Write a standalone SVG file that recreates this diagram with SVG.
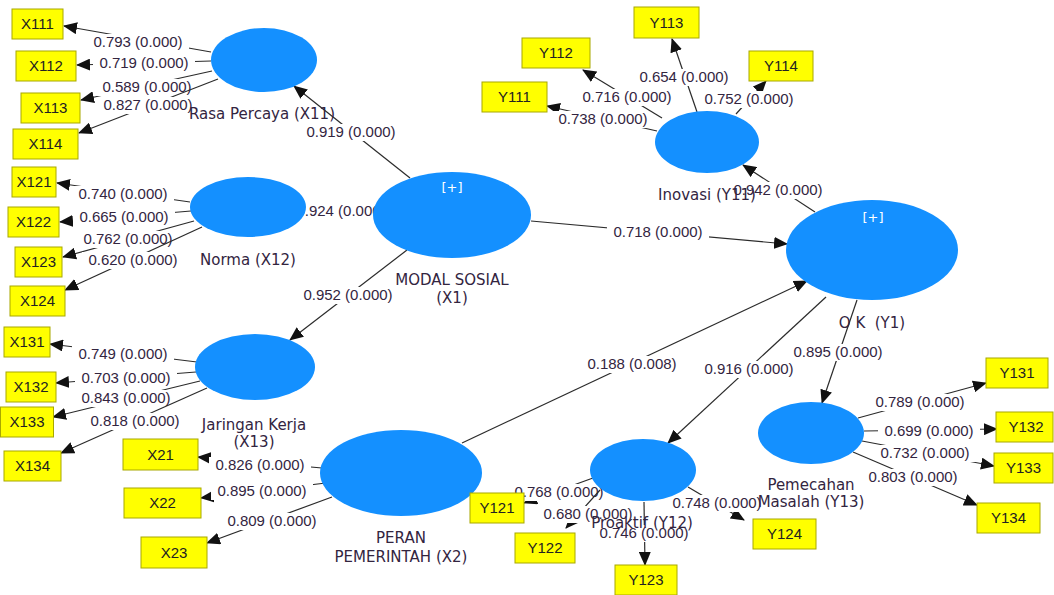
<svg xmlns="http://www.w3.org/2000/svg" width="1054" height="595" viewBox="0 0 1054 595">
<style>
.ln{stroke:#2b2b2b;stroke-width:1.2;fill:none;marker-end:url(#ah)}
.bg{fill:#fff}
.val{font-family:"Liberation Sans",Arial,sans-serif;font-size:15px;fill:#33253f;text-anchor:middle}
.lv{fill:#1490FF}
.lbl{font-family:"DejaVu Sans",Verdana,sans-serif;font-size:15px;fill:#33253f;text-anchor:middle;white-space:pre}
.plus{font-family:"DejaVu Sans",Verdana,sans-serif;font-size:13px;fill:#fff;text-anchor:middle}
.box{fill:#FFFF00;stroke:#A8A800;stroke-width:1}
.bt{font-family:"Liberation Sans",Arial,sans-serif;font-size:15px;fill:#222;text-anchor:middle}
</style>
<defs>
<marker id="ah" markerUnits="userSpaceOnUse" viewBox="0 0 14 12" markerWidth="14" markerHeight="12" refX="13" refY="6" orient="auto">
<path d="M0,0 L14,6 L0,12 z" fill="#111"/>
</marker>
</defs>
<rect width="1054" height="595" fill="#fff"/>

<g id="connectors">
<!-- Rasa Percaya indicators -->
<path class="ln" d="M211,52 L64,26"/><rect class="bg" x="87" y="34" width="102" height="17"/><text class="val" x="138" y="47">0.793 (0.000)</text>
<path class="ln" d="M211,61 L77,65"/><rect class="bg" x="93" y="55" width="102" height="17"/><text class="val" x="144" y="68">0.719 (0.000)</text>
<path class="ln" d="M212,71 L81,100"/><rect class="bg" x="96" y="79" width="102" height="17"/><text class="val" x="147" y="92">0.589 (0.000)</text>
<path class="ln" d="M218,79 L79,133"/><rect class="bg" x="97" y="97" width="102" height="17"/><text class="val" x="148" y="110">0.827 (0.000)</text>
<!-- Norma indicators -->
<path class="ln" d="M190,202 L57,183"/><rect class="bg" x="72" y="186" width="102" height="17"/><text class="val" x="123" y="199">0.740 (0.000)</text>
<path class="ln" d="M191,211 L60,222"/><rect class="bg" x="73" y="209" width="102" height="17"/><text class="val" x="124" y="222">0.665 (0.000)</text>
<path class="ln" d="M194,221 L63,257"/><rect class="bg" x="77" y="231" width="102" height="17"/><text class="val" x="128" y="244">0.762 (0.000)</text>
<path class="ln" d="M202,227 L65,290"/><rect class="bg" x="82" y="252" width="102" height="17"/><text class="val" x="133" y="265">0.620 (0.000)</text>
<!-- Jaringan Kerja indicators -->
<path class="ln" d="M197,362 L50,344"/><rect class="bg" x="72" y="346" width="102" height="17"/><text class="val" x="123" y="359">0.749 (0.000)</text>
<path class="ln" d="M196,372 L56,383"/><rect class="bg" x="75" y="370" width="102" height="17"/><text class="val" x="126" y="383">0.703 (0.000)</text>
<path class="ln" d="M200,381 L53,417"/><rect class="bg" x="75" y="390" width="102" height="17"/><text class="val" x="126" y="403">0.843 (0.000)</text>
<path class="ln" d="M207,388 L61,453"/><rect class="bg" x="84" y="413" width="102" height="17"/><text class="val" x="135" y="426">0.818 (0.000)</text>
<!-- Peran Pemerintah indicators -->
<path class="ln" d="M322,468 L198,457"/><rect class="bg" x="209" y="457" width="102" height="17"/><text class="val" x="260" y="470">0.826 (0.000)</text>
<path class="ln" d="M326,483 L201,498"/><rect class="bg" x="211" y="483" width="102" height="17"/><text class="val" x="262" y="496">0.895 (0.000)</text>
<path class="ln" d="M332,497 L207,543"/><rect class="bg" x="221" y="513" width="102" height="17"/><text class="val" x="272" y="526">0.809 (0.000)</text>
<!-- structural paths -->
<path class="ln" d="M410,178 L294,86"/><rect class="bg" x="300" y="124" width="102" height="17"/><text class="val" x="351" y="137">0.919 (0.000)</text>
<path class="ln" d="M373,214 L306,208"/><rect class="bg" x="290" y="203" width="102" height="17"/><text class="val" x="341" y="216">0.924 (0.000)</text>
<path class="ln" d="M407,250 L290,340"/><rect class="bg" x="297" y="287" width="102" height="17"/><text class="val" x="348" y="300">0.952 (0.000)</text>
<path class="ln" d="M531,221 L787,244"/><rect class="bg" x="607" y="224" width="102" height="17"/><text class="val" x="658" y="237">0.718 (0.000)</text>
<path class="ln" d="M462,443 L807,281"/><rect class="bg" x="581" y="356" width="102" height="17"/><text class="val" x="632" y="369">0.188 (0.008)</text>
<path class="ln" d="M815,212 L743,165"/><rect class="bg" x="727" y="182" width="102" height="17"/><text class="val" x="778" y="195">0.942 (0.000)</text>
<path class="ln" d="M826,297 L668,443"/><rect class="bg" x="698" y="361" width="102" height="17"/><text class="val" x="749" y="374">0.916 (0.000)</text>
<path class="ln" d="M857,300 L822,403"/><rect class="bg" x="787" y="344" width="102" height="17"/><text class="val" x="838" y="357">0.895 (0.000)</text>
<!-- Inovasi indicators -->
<path class="ln" d="M657,131 L547,106"/><rect class="bg" x="552" y="111" width="102" height="17"/><text class="val" x="603" y="124">0.738 (0.000)</text>
<path class="ln" d="M662,118 L583,70"/><rect class="bg" x="576" y="89" width="102" height="17"/><text class="val" x="627" y="102">0.716 (0.000)</text>
<path class="ln" d="M697,112 L672,39"/><rect class="bg" x="633" y="69" width="102" height="17"/><text class="val" x="684" y="82">0.654 (0.000)</text>
<path class="ln" d="M736,114 L766,81"/><rect class="bg" x="698" y="91" width="102" height="17"/><text class="val" x="749" y="104">0.752 (0.000)</text>
<!-- Proaktif indicators -->
<path class="ln" d="M593,478 L524,503"/><rect class="bg" x="508" y="484" width="102" height="17"/><text class="val" x="559" y="497">0.768 (0.000)</text>
<path class="ln" d="M600,490 L566,528"/><rect class="bg" x="537" y="506" width="102" height="17"/><text class="val" x="588" y="519">0.680 (0.000)</text>
<path class="ln" d="M644,502 L645,565"/><rect class="bg" x="593" y="525" width="102" height="17"/><text class="val" x="644" y="538">0.746 (0.000)</text>
<path class="ln" d="M688,487 L744,520"/><rect class="bg" x="666" y="495" width="102" height="17"/><text class="val" x="717" y="508">0.748 (0.000)</text>
<!-- Pemecahan Masalah indicators -->
<path class="ln" d="M858,418 L986,383"/><rect class="bg" x="869" y="394" width="102" height="17"/><text class="val" x="920" y="407">0.789 (0.000)</text>
<path class="ln" d="M864,431 L997,429"/><rect class="bg" x="878" y="423" width="102" height="17"/><text class="val" x="929" y="436">0.699 (0.000)</text>
<path class="ln" d="M862,441 L994,466"/><rect class="bg" x="874" y="445" width="102" height="17"/><text class="val" x="925" y="458">0.732 (0.000)</text>
<path class="ln" d="M853,452 L977,505"/><rect class="bg" x="862" y="469" width="102" height="17"/><text class="val" x="913" y="482">0.803 (0.000)</text>
</g>

<!-- latent variables -->
<g id="X11"><ellipse class="lv" cx="264" cy="60" rx="53" ry="32"/><text class="lbl" x="262" y="119">Rasa Percaya (X11)</text></g>
<g id="X12"><ellipse class="lv" cx="248" cy="207" rx="58" ry="30"/><text class="lbl" x="248" y="265">Norma (X12)</text></g>
<g id="X13"><ellipse class="lv" cx="255" cy="367" rx="60" ry="33"/><text class="lbl" x="254" y="430">Jaringan Kerja</text><text class="lbl" x="254" y="447">(X13)</text></g>
<g id="X1"><ellipse class="lv" cx="452" cy="215" rx="79" ry="43"/><text class="plus" x="452" y="192">[+]</text><text class="lbl" x="452" y="285">MODAL SOSIAL</text><text class="lbl" x="452" y="303">(X1)</text></g>
<g id="X2"><ellipse class="lv" cx="401" cy="473" rx="81" ry="43"/><text class="lbl" x="401" y="543">PERAN</text><text class="lbl" x="401" y="562">PEMERINTAH (X2)</text></g>
<g id="Y11"><ellipse class="lv" cx="707" cy="142" rx="52" ry="31"/><text class="lbl" x="707" y="200">Inovasi (Y11)</text></g>
<g id="Y1"><ellipse class="lv" cx="872" cy="250" rx="86" ry="50"/><text class="plus" x="873" y="222">[+]</text><text class="lbl" x="872" y="328" xml:space="preserve">O K  (Y1)</text></g>
<g id="Y12"><ellipse class="lv" cx="643" cy="470" rx="53" ry="31"/><text class="lbl" x="642" y="528">Proaktif (Y12)</text></g>
<g id="Y13"><ellipse class="lv" cx="811" cy="433" rx="53" ry="31"/><text class="lbl" x="811" y="490">Pemecahan</text><text class="lbl" x="811" y="507">Masalah (Y13)</text></g>

<!-- indicators -->
<g id="X111"><rect class="box" x="12" y="9" width="51" height="30"/><text class="bt" x="37.5" y="29.4">X111</text></g>
<g id="X112"><rect class="box" x="16" y="51" width="60" height="30"/><text class="bt" x="46" y="71.4">X112</text></g>
<g id="X113"><rect class="box" x="21" y="93" width="59" height="30"/><text class="bt" x="50.5" y="113.4">X113</text></g>
<g id="X114"><rect class="box" x="13" y="129" width="65" height="30"/><text class="bt" x="45.5" y="149.4">X114</text></g>
<g id="X121"><rect class="box" x="12" y="167" width="44" height="30"/><text class="bt" x="34" y="187.4">X121</text></g>
<g id="X122"><rect class="box" x="8" y="207" width="51" height="30"/><text class="bt" x="33.5" y="227.4">X122</text></g>
<g id="X123"><rect class="box" x="15" y="247" width="47" height="30"/><text class="bt" x="38.5" y="267.4">X123</text></g>
<g id="X124"><rect class="box" x="10" y="286" width="55" height="30"/><text class="bt" x="37.5" y="306.4">X124</text></g>
<g id="X131"><rect class="box" x="4" y="327" width="46" height="30"/><text class="bt" x="27" y="347.4">X131</text></g>
<g id="X132"><rect class="box" x="6" y="372" width="50" height="30"/><text class="bt" x="31" y="392.4">X132</text></g>
<g id="X133"><rect class="box" x="0.5" y="407" width="53" height="30"/><text class="bt" x="27" y="427.4">X133</text></g>
<g id="X134"><rect class="box" x="4" y="451" width="57" height="30"/><text class="bt" x="32.5" y="471.4">X134</text></g>
<g id="X21"><rect class="box" x="123" y="439" width="75" height="31"/><text class="bt" x="160.5" y="459.9">X21</text></g>
<g id="X22"><rect class="box" x="124" y="488" width="77" height="30"/><text class="bt" x="162.5" y="508.4">X22</text></g>
<g id="X23"><rect class="box" x="141" y="537" width="66" height="31"/><text class="bt" x="174" y="557.9">X23</text></g>
<g id="Y111"><rect class="box" x="482" y="82" width="65" height="30"/><text class="bt" x="514.5" y="102.4">Y111</text></g>
<g id="Y112"><rect class="box" x="522" y="38" width="68" height="30"/><text class="bt" x="556" y="58.4">Y112</text></g>
<g id="Y113"><rect class="box" x="634" y="7" width="65" height="31"/><text class="bt" x="666.5" y="27.9">Y113</text></g>
<g id="Y114"><rect class="box" x="749" y="51" width="64" height="30"/><text class="bt" x="781" y="71.4">Y114</text></g>
<g id="Y121"><rect class="box" x="470" y="493" width="54" height="30"/><text class="bt" x="497" y="513.4">Y121</text></g>
<g id="Y122"><rect class="box" x="515" y="533" width="60" height="30"/><text class="bt" x="545" y="553.4">Y122</text></g>
<g id="Y123"><rect class="box" x="615" y="565" width="62" height="30"/><text class="bt" x="646" y="585.4">Y123</text></g>
<g id="Y124"><rect class="box" x="753" y="519" width="63" height="30"/><text class="bt" x="784.5" y="539.4">Y124</text></g>
<g id="Y131"><rect class="box" x="986" y="358" width="62" height="30"/><text class="bt" x="1017" y="378.4">Y131</text></g>
<g id="Y132"><rect class="box" x="996" y="412" width="57" height="30"/><text class="bt" x="1026" y="432.4">Y132</text></g>
<g id="Y133"><rect class="box" x="994" y="453" width="59" height="30"/><text class="bt" x="1023.5" y="473.4">Y133</text></g>
<g id="Y134"><rect class="box" x="977" y="503" width="63" height="30"/><text class="bt" x="1008.5" y="523.4">Y134</text></g>
</svg>
